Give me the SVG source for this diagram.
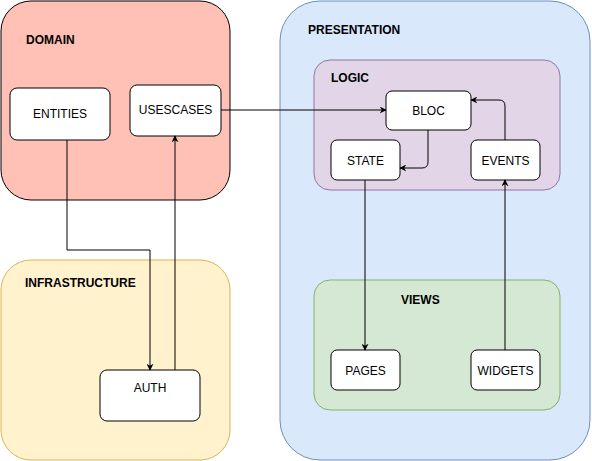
<svg xmlns="http://www.w3.org/2000/svg" width="592" height="461" viewBox="0 0 592 461">
<defs>
<style>
.node rect{fill:#ffffff;stroke:#000000;stroke-width:1}
.lbl{font-family:"Liberation Sans",Arial,sans-serif;font-size:12px;fill:#000000;text-anchor:middle}
.title{font-family:"Liberation Sans",Arial,sans-serif;font-size:12px;font-weight:bold;fill:#000000}
.edge{fill:none;stroke:#000000;stroke-width:1}
</style>
<marker id="arr" viewBox="0 0 10 10" refX="9" refY="5" markerWidth="7" markerHeight="7" orient="auto" markerUnits="userSpaceOnUse">
<path d="M0,0 L10,5 L0,10 L3,5 Z" fill="#000000"/>
</marker>
</defs>
<rect width="592" height="461" fill="#ffffff"/>
<g id="domain">
<rect x="1" y="1" width="229" height="199" rx="30" fill="#ffc1b6" stroke="#000000"/>
<text class="title" x="26" y="44">DOMAIN</text>
</g>
<g id="infrastructure">
<rect x="1" y="260" width="229" height="200" rx="30" fill="#fff2cc" stroke="#d6b656"/>
<text class="title" x="25" y="287">INFRASTRUCTURE</text>
</g>
<g id="presentation">
<rect x="280" y="1" width="310" height="459" rx="40" fill="#dae8fc" stroke="#6c8ebf"/>
<text class="title" x="308" y="34">PRESENTATION</text>
</g>
<g id="logic">
<rect x="314" y="60" width="246" height="130" rx="16" fill="#e1d5e7" stroke="#9673a6"/>
<text class="title" x="331" y="82">LOGIC</text>
</g>
<g id="views">
<rect x="314" y="280" width="246" height="130" rx="16" fill="#d5e8d4" stroke="#82b366"/>
<text class="title" x="401" y="304">VIEWS</text>
</g>
<g id="entities" class="node">
<rect x="10" y="88" width="100" height="52" rx="7"/>
<text class="lbl" x="60" y="118">ENTITIES</text>
</g>
<g id="usescases" class="node">
<rect x="130" y="85" width="91" height="51" rx="7"/>
<text class="lbl" x="175.5" y="114">USESCASES</text>
</g>
<g id="auth" class="node">
<rect x="100" y="370" width="100" height="51" rx="7"/>
<text class="lbl" x="150" y="392">AUTH</text>
</g>
<g id="bloc" class="node">
<rect x="386" y="91" width="85" height="39" rx="6"/>
<text class="lbl" x="428.5" y="114.5">BLOC</text>
</g>
<g id="state" class="node">
<rect x="331" y="140" width="69" height="40" rx="6"/>
<text class="lbl" x="365.5" y="164.5">STATE</text>
</g>
<g id="events" class="node">
<rect x="471" y="140" width="69" height="40" rx="6"/>
<text class="lbl" x="505.5" y="164.5">EVENTS</text>
</g>
<g id="pages" class="node">
<rect x="331" y="350" width="69" height="40" rx="6"/>
<text class="lbl" x="365.5" y="374.5">PAGES</text>
</g>
<g id="widgets" class="node">
<rect x="471" y="350" width="69" height="40" rx="6"/>
<text class="lbl" x="505.5" y="374.5">WIDGETS</text>
</g>
<g id="connectors">
<path class="edge" d="M67,140 V250 H150 V370" marker-end="url(#arr)"/>
<path class="edge" d="M175,370 V136" marker-end="url(#arr)"/>
<path class="edge" d="M221,110 H386" marker-end="url(#arr)"/>
<path class="edge" d="M428,130 V162 Q428,168 422,168 H400" marker-end="url(#arr)"/>
<path class="edge" d="M505,140 V106 Q505,100 499,100 H471" marker-end="url(#arr)"/>
<path class="edge" d="M365,180 V350" marker-end="url(#arr)"/>
<path class="edge" d="M505,350 V180" marker-end="url(#arr)"/>
</g>
</svg>
